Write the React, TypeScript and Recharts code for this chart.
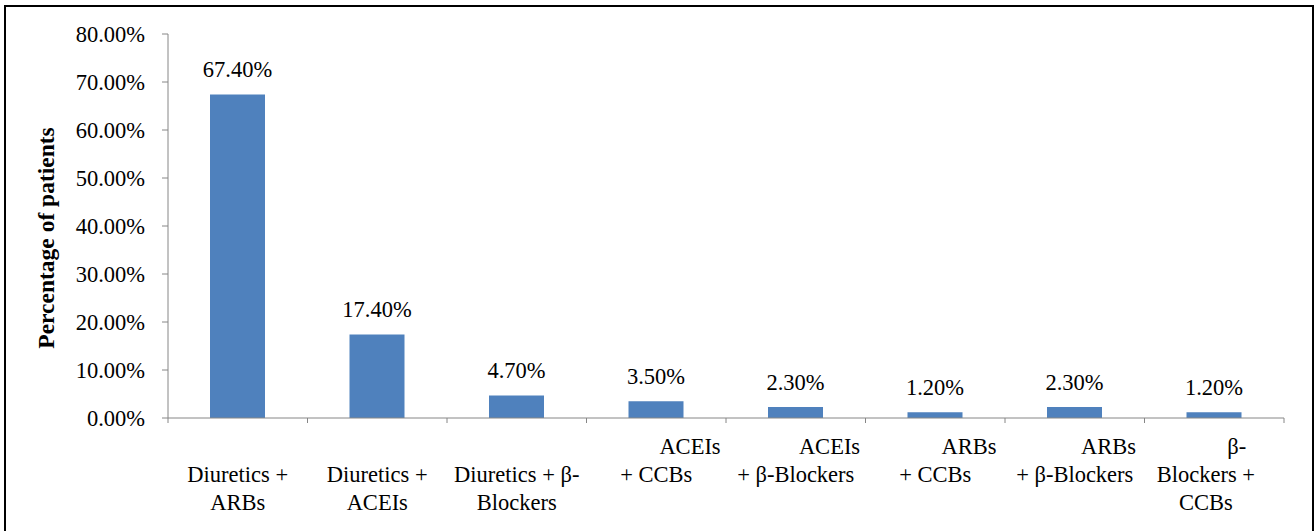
import { Bar, BarChart, LabelList, XAxis, YAxis, Label } from 'recharts'

const categories = [
  'Diuretics + ARBs',
  'Diuretics + ACEIs',
  'Diuretics + β-Blockers',
  'ACEIs + CCBs',
  'ACEIs + β-Blockers',
  'ARBs + CCBs',
  'ARBs + β-Blockers',
  'β-Blockers + CCBs',
]
const percentages = [67.4, 17.4, 4.7, 3.5, 2.3, 1.2, 2.3, 1.2]

// wrapped tick labels as they appear under the axis (nbsp keeps the original padding)
const pad = '\u00a0'.repeat(12)
const tickLines: string[][] = [
  ['', 'Diuretics +', 'ARBs'],
  ['', 'Diuretics +', 'ACEIs'],
  ['', 'Diuretics + β-', 'Blockers'],
  [pad + 'ACEIs', '+ CCBs'],
  [pad + 'ACEIs', '+ β-Blockers'],
  [pad + 'ARBs', '+ CCBs'],
  [pad + 'ARBs', '+ β-Blockers'],
  ['\u00a0'.repeat(8) + 'β-', 'Blockers +\u00a0\u00a0\u00a0', 'CCBs\u00a0\u00a0\u00a0'],
]
const yTicks = [0, 10, 20, 30, 40, 50, 60, 70, 80]

const data = categories.map((name, i) => ({ name, value: percentages[i] }))

const font = '"Liberation Serif", "Times New Roman", serif'
const axisGray = '#868686'
const barBlue = '#4F81BD'

function CategoryTick(props: any) {
  const { x, y, payload, index } = props
  const i = payload?.index ?? index
  const half = payload?.offset || 69.75
  const lines = tickLines[i] ?? []
  return (
    <g>
      <line x1={x - half} x2={x - half} y1={y} y2={y + 5} stroke={axisGray} />
      {i === categories.length - 1 && (
        <line x1={x + half} x2={x + half} y1={y} y2={y + 5} stroke={axisGray} />
      )}
      {lines.map((line, k) =>
        line ? (
          <text
            key={k}
            x={x}
            y={y + 36 + 28 * k}
            textAnchor='middle'
            fontFamily={font}
            fontSize={22.5}
            fill='#000'
            style={{ whiteSpace: 'pre' }}
          >
            {line}
          </text>
        ) : null
      )}
    </g>
  )
}

export default function App() {
  return (
    <div style={{ position: 'absolute', left: 0, top: 0, width: 1314, height: 531, background: '#fff', overflow: 'hidden' }}>
      <div
        style={{
          position: 'absolute',
          left: 4,
          top: 5,
          width: 1306,
          height: 540,
          border: '2px solid #000',
        }}
      />
      <BarChart
        width={1314}
        height={531}
        data={data}
        margin={{ top: 34, right: 30, bottom: 0, left: 0 }}
        style={{ position: 'absolute', left: 0, top: 0 }}
      >
        <XAxis
          dataKey='name'
          interval={0}
          height={113}
          stroke={axisGray}
          tickLine={false}
          tickSize={0}
          tickMargin={0}
          tick={(p: any) => <CategoryTick {...p} />}
        />
        <YAxis
          width={168}
          domain={[0, 80]}
          ticks={yTicks}
          interval={0}
          stroke={axisGray}
          tickSize={6}
          tickMargin={17}
          tick={{ fill: '#000', fontFamily: font, fontSize: 22.5 }}
          tickFormatter={(v: number) => `${v.toFixed(2)}%`}
        >
          <Label
            content={() => (
              <text
                x={46}
                y={238}
                transform='rotate(-90, 46, 238)'
                textAnchor='middle'
                dominantBaseline='central'
                fontFamily={font}
                fontWeight='bold'
                fontSize={23.5}
                fill='#000'
              >
                Percentage of patients
              </text>
            )}
          />
        </YAxis>
        <Bar dataKey='value' fill={barBlue} barSize={55} isAnimationActive={false}>
          <LabelList
            dataKey='value'
            position='top'
            offset={17}
            formatter={(v: any) => `${Number(v).toFixed(2)}%`}
            style={{ fill: '#000', fontFamily: font, fontSize: 22.5 }}
          />
        </Bar>
      </BarChart>
    </div>
  )
}
